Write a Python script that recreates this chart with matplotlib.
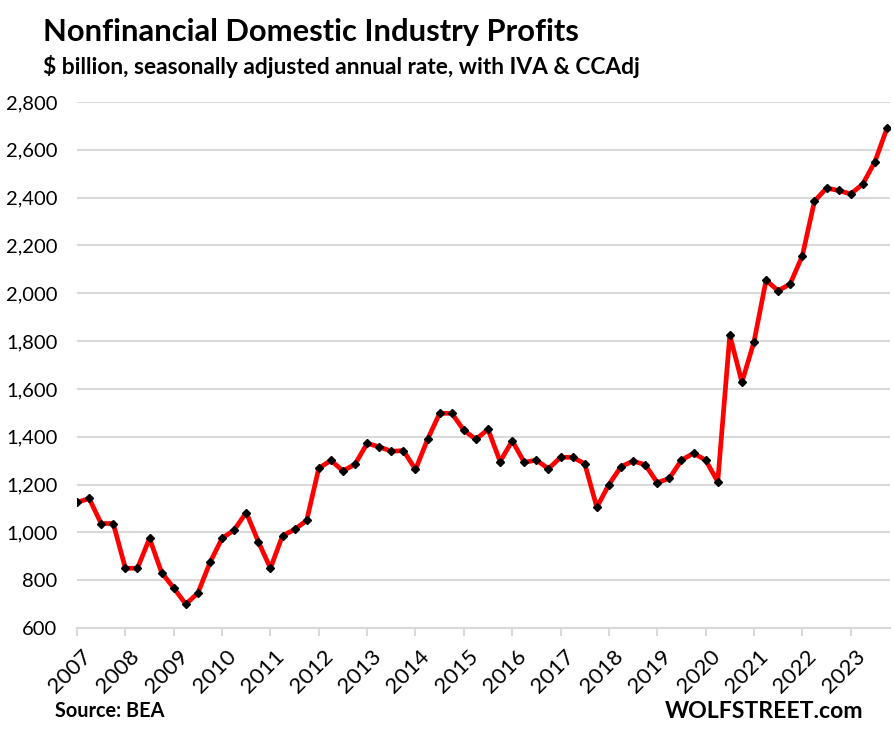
import matplotlib
matplotlib.use("Agg")
import matplotlib.pyplot as plt
import matplotlib.transforms as mtransforms
import numpy as np

# quarterly profits, 2007 Q1 .. 2023 Q4 ($ billion, SAAR)
profits = [
    1125, 1142, 1037, 1037, 850, 850, 975, 832,      # 2007-2008
    767, 700, 746, 874, 975, 1010, 1083, 961,        # 2009-2010
    850, 986, 1012, 1050, 1268, 1301, 1257, 1285,    # 2011-2012
    1372, 1358, 1339, 1342, 1263, 1389, 1498, 1498,  # 2013-2014
    1427, 1389, 1431, 1296, 1383, 1293, 1302, 1266,  # 2015-2016
    1314, 1314, 1287, 1105, 1200, 1275, 1298, 1283,  # 2017-2018
    1208, 1226, 1302, 1331, 1302, 1212, 1825, 1628,  # 2019-2020
    1797, 2055, 2010, 2040, 2157, 2385, 2440, 2430,  # 2021-2022
    2415, 2457, 2550, 2690,                          # 2023
]
years = [str(y) for y in range(2007, 2024)]
yticks = list(range(600, 2801, 200))

plt.rcParams['font.family'] = ['Lato', 'DejaVu Sans']

fig = plt.figure(figsize=(8.94, 7.33), dpi=100)
ax = fig.add_axes([77/894, 1 - 628/733, (890 - 77)/894, (628 - 102)/733])

x = np.arange(len(profits))
ax.plot(x, profits, color='red', lw=3.4, zorder=3)
ax.plot(x, profits, ls='none', marker='D', ms=4.4, color='black', zorder=4)

ax.set_xlim(0, 67.25)
ax.set_ylim(600, 2800)
ax.set_yticks(yticks)
ax.set_yticklabels([f"{v:,}" for v in yticks], fontsize=14.5)
ax.yaxis.grid(True, color='#d9d9d9', lw=1.5)
ax.set_axisbelow(True)
ax.tick_params(axis='y', length=0, pad=14)

ax.set_xticks(np.arange(0, 65, 4))
ax.set_xticklabels(years, rotation=45, ha='right', rotation_mode='anchor', fontsize=16)
ax.tick_params(axis='x', length=5.5, width=1.5, color='#d9d9d9', pad=7.5)
shift = mtransforms.ScaledTranslation(4/100, 0, fig.dpi_scale_trans)
for lbl in ax.get_xticklabels():
    lbl.set_transform(lbl.get_transform() + shift)

for s in ['top', 'right', 'left']:
    ax.spines[s].set_visible(False)
ax.spines['bottom'].set_color('#d9d9d9')
ax.spines['bottom'].set_linewidth(1.5)

fig.text(43/894, 1 - 32/733, "Nonfinancial Domestic Industry Profits",
         fontsize=22.2, fontweight='bold', va='center', ha='left')
fig.text(43/894, 1 - 67/733, "$ billion, seasonally adjusted annual rate, with IVA & CCAdj",
         fontsize=16.4, fontweight='bold', va='center', ha='left')
fig.text(55/894, 1 - 711/733, "Source: BEA", fontsize=14.3, fontweight='bold',
         va='center', ha='left')
fig.text(863/894, 1 - 711/733, "WOLFSTREET.com", fontsize=16.6, fontweight='bold',
         va='center', ha='right')

fig.savefig("out.png", dpi=100)
